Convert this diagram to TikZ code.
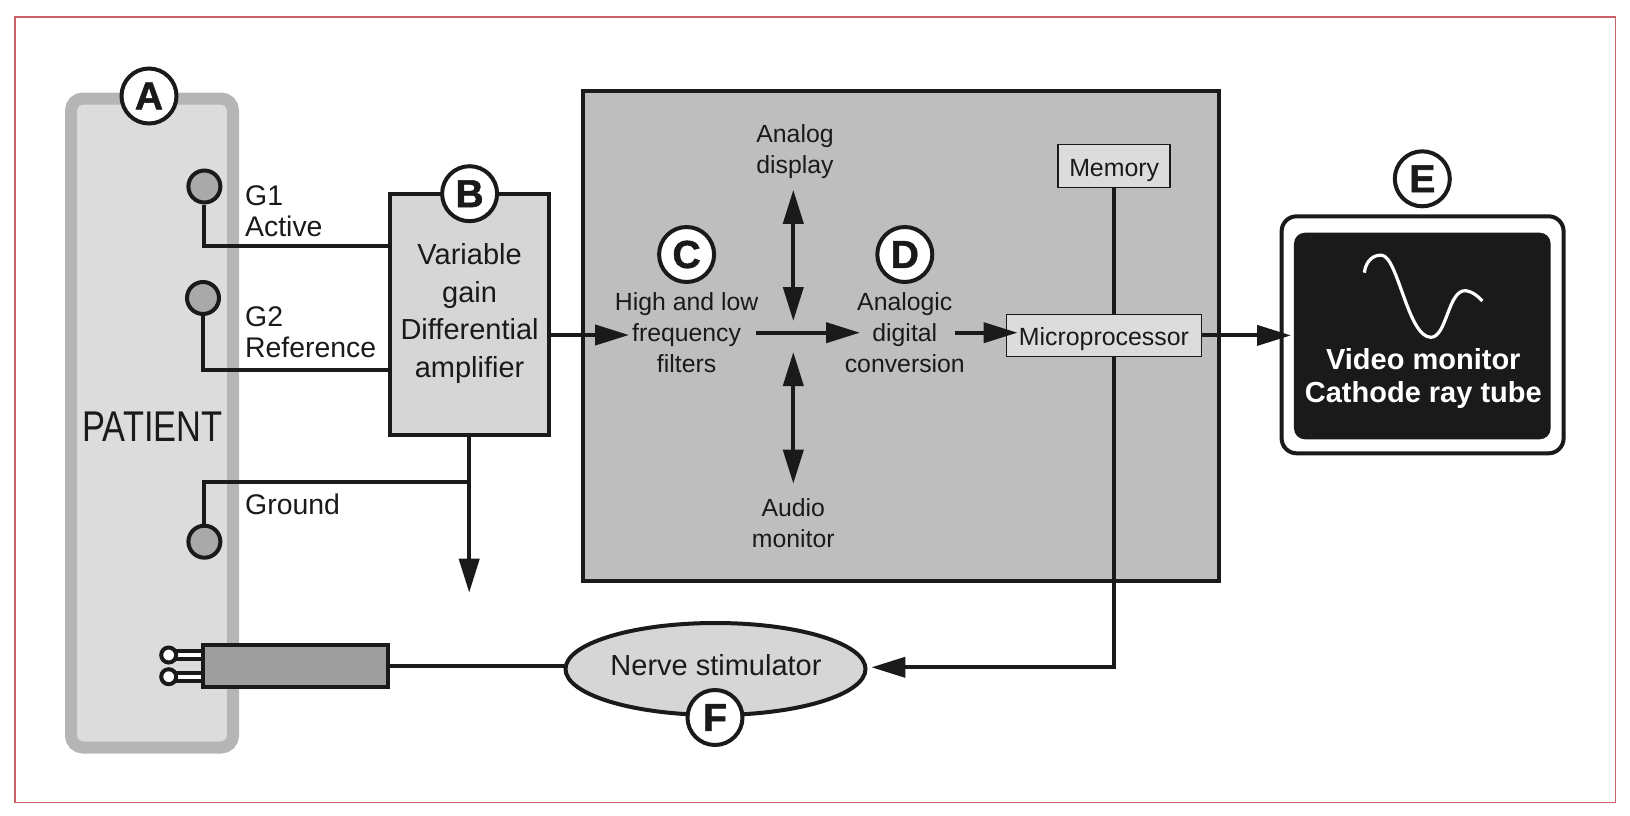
\documentclass[tikz,border=0pt]{standalone}
\usepackage{graphicx}
\usepackage{fontspec}
\setmainfont{Liberation Sans}
\newfontfamily\letterfont[FakeBold=1.4]{Liberation Sans Bold}
\usetikzlibrary{arrows.meta,shapes.geometric}
\definecolor{ink}{HTML}{1A1A1A}
\definecolor{framered}{HTML}{C9606A}
\definecolor{patientrim}{HTML}{B5B5B5}
\definecolor{patientfill}{HTML}{DCDCDC}
\definecolor{unitfill}{HTML}{D6D6D6}
\definecolor{bigfill}{HTML}{BEBEBE}
\definecolor{padfill}{HTML}{A9A9A9}
\definecolor{stimfill}{HTML}{9E9E9E}

\begin{document}
\begin{tikzpicture}[x=1pt,y=-1pt,
    wire/.style={draw=ink, line width=4pt},
    tip/.style={-{Triangle[length=34pt,width=20pt]}},
    bothtips/.style={{Triangle[length=34pt,width=20pt]}-{Triangle[length=34pt,width=20pt]}},
    letter/.style={circle, draw=ink, line width=4pt, fill=white, minimum size=55pt, inner sep=0pt, text=ink,
        font=\fontsize{39}{39}\letterfont},
    pad/.style={circle, draw=ink, line width=4pt, fill=padfill, minimum size=32pt, inner sep=0pt},
    pin/.style={circle, draw=ink, line width=4pt, fill=white, minimum size=15pt, inner sep=0pt},
    pinwire/.style={draw=ink, line width=3.8pt, double=white, double distance=4pt},
    unit/.style={rectangle, draw=ink, line width=4pt, inner sep=0pt},
    small/.style={rectangle, draw=ink, line width=1.8pt, fill=patientfill, inner sep=0pt, text=ink,
        text height=20.5pt, text depth=0pt, font=\fontsize{24.9}{31}\selectfont},
    bigtext/.style={align=center, text=ink, inner sep=0pt, font=\fontsize{29}{37.5}\selectfont},
    sidetext/.style={align=left, anchor=west, text=ink, inner sep=0pt, font=\fontsize{28.4}{31}\selectfont},
    midtext/.style={align=center, text=ink, inner sep=0pt, font=\fontsize{24.8}{31}\selectfont}]

    \useasboundingbox (0,0) rectangle (1630,816);

    % Outer frame
    \draw[framered, line width=1.8pt] (15,17) rectangle (1615.5,802.5);

    % Patient
    \node[rectangle, rounded corners=12pt, draw=patientrim, line width=12pt, fill=patientfill,
        minimum width=162pt, minimum height=649pt, inner sep=0pt] (patient) at (152,423) {};
    \node[text=ink, inner sep=0pt, font=\fontsize{43}{43}\selectfont] (patientname) at (152.3,427) {\scalebox{0.8}[1]{PATIENT}};

    % Big processing box
    \node[unit, fill=bigfill, minimum width=636pt, minimum height=490pt] (bigbox) at (901.3,336.3) {};

    % Amplifier and monitor
    \node[unit, fill=unitfill, minimum width=159pt, minimum height=241pt] (amp) at (469.2,314.8) {};
    \node[bigtext] (amplabel) at (469.6,313.7) {Variable\\gain\\Differential\\amplifier};
    \node[rectangle, rounded corners=15pt, draw=ink, line width=4pt, fill=white,
        minimum width=282pt, minimum height=237pt, inner sep=0pt] (monitor) at (1422.6,334.8) {};
    \node[rectangle, rounded corners=11pt, fill=ink, minimum width=256.7pt, minimum height=206.6pt,
        inner sep=0pt] (screen) at (1422.3,336) {};
    \node[align=center, text=white, inner sep=0pt, font=\fontsize{29}{33}\bfseries\selectfont] (screenlabel) at (1423.3,378.6) {Video monitor\\Cathode ray tube};
    \draw[white, line width=3.2pt] (1364.3,272.7) .. controls (1366,260) and (1374,254.5) .. (1382,255.3)
        .. controls (1398,257) and (1408,337.5) .. (1431,337.3)
        .. controls (1447,337) and (1448,289) .. (1466,290.7)
        .. controls (1472,291.5) and (1478,296) .. (1482.3,301);

    % Electrodes
    \node[pad] (gone) at (204.4,186.5) {};
    \node[pad] (gtwo) at (203,298) {};
    \node[pad] (gnd) at (204.4,541.7) {};
    \node[sidetext] (gonelabel) at (245,211.5) {G1\\Active};
    \node[sidetext] (gtwolabel) at (245,332.5) {G2\\Reference};
    \node[sidetext] (gndlabel) at (245,504) {Ground};

    % Stimulator
    \node[unit, fill=stimfill, minimum width=185pt, minimum height=42pt] (stim) at (295.3,666) {};
    \node[ellipse, draw=ink, line width=4pt, fill=unitfill, minimum width=300pt, minimum height=92pt,
        inner sep=0pt] (nerve) at (715.5,669) {};
    \node[text=ink, inner sep=0pt, font=\fontsize{29}{31}\selectfont] (nervelabel) at (716,665) {Nerve stimulator};
    \coordinate (pinone) at (168.7,655);
    \coordinate (pintwo) at (168.7,676.7);
    \draw[pinwire] (pinone) -- (pinone -| stim.west);
    \draw[pinwire] (pintwo) -- (pintwo -| stim.west);
    \node[pin] (pinonehead) at (pinone) {};
    \node[pin] (pintwohead) at (pintwo) {};

    % Inside the big box
    \node[small, minimum width=112pt, minimum height=43pt] (memory) at (1114.2,165.9) {Memory};
    \node[small, minimum width=195pt, minimum height=42pt] (proc) at (1103.9,335.4) {Microprocessor};
    \node[midtext] (filters) at (686.6,332.7) {High and low\\frequency\\filters};
    \node[midtext] (adc) at (904.8,332.7) {Analogic\\digital\\conversion};
    \node[midtext] (analog) at (795,151.5) {Analog\\display};
    \node[midtext] (audio) at (793.3,523.5) {Audio\\monitor};

    % Free ends of the connectors
    \coordinate (gonein) at (amp.west |- 0,245.8);
    \coordinate (gtwoin) at (amp.west |- 0,369.8);
    \coordinate (gndjoin) at (amp.south |- 0,482);
    \coordinate (groundend) at (amp.south |- 0,592.7);
    \coordinate (ampout) at (amp.east |- 0,335);
    \coordinate (filterin) at (629,335);
    \coordinate (filterout) at (756,332.7);
    \coordinate (adcin) at (860,332.7);
    \coordinate (adcout) at (954.6,332.7);
    \coordinate (procin) at (1017.5,332.7);
    \coordinate (monitorin) at (1291,335.4);
    \coordinate (nervein) at (871.4,667.3);
    \coordinate (upperstart) at (793.3,189.8);
    \coordinate (upperend) at (793.3,321);
    \coordinate (lowerstart) at (793.3,352);
    \coordinate (lowerend) at (793.3,483.7);

    % Connectors
    \draw[wire] (gone) |- (gonein);
    \draw[wire] (gtwo) |- (gtwoin);
    \draw[wire] (gnd) |- (gndjoin);
    \draw[wire, tip] (amp.south) -- (groundend);
    \draw[wire, tip] (ampout) -- (filterin);
    \draw[wire, tip] (filterout) -- (adcin);
    \draw[wire, tip] (adcout) -- (procin);
    \draw[wire, tip] (proc.east) -- (monitorin);
    \draw[wire, bothtips] (upperstart) -- (upperend);
    \draw[wire, bothtips] (lowerstart) -- (lowerend);
    \draw[wire] (memory.south) -- (memory.south |- proc.north);
    \draw[wire, tip] (memory.south |- proc.south) |- (nervein);
    \draw[wire] (stim.east) -- (stim.east -| nerve.west);

    % Letters
    \node[letter] (lettera) at (149,96) {A};
    \node[letter] (letterb) at (469.6,193.7) {B};
    \node[letter] (letterc) at (686.6,254.5) {C};
    \node[letter] (letterd) at (904.8,254.5) {D};
    \node[letter] (lettere) at (1422.3,178.8) {E};
    \node[letter] (letterf) at (715,717.5) {F};

\end{tikzpicture}
\end{document}
